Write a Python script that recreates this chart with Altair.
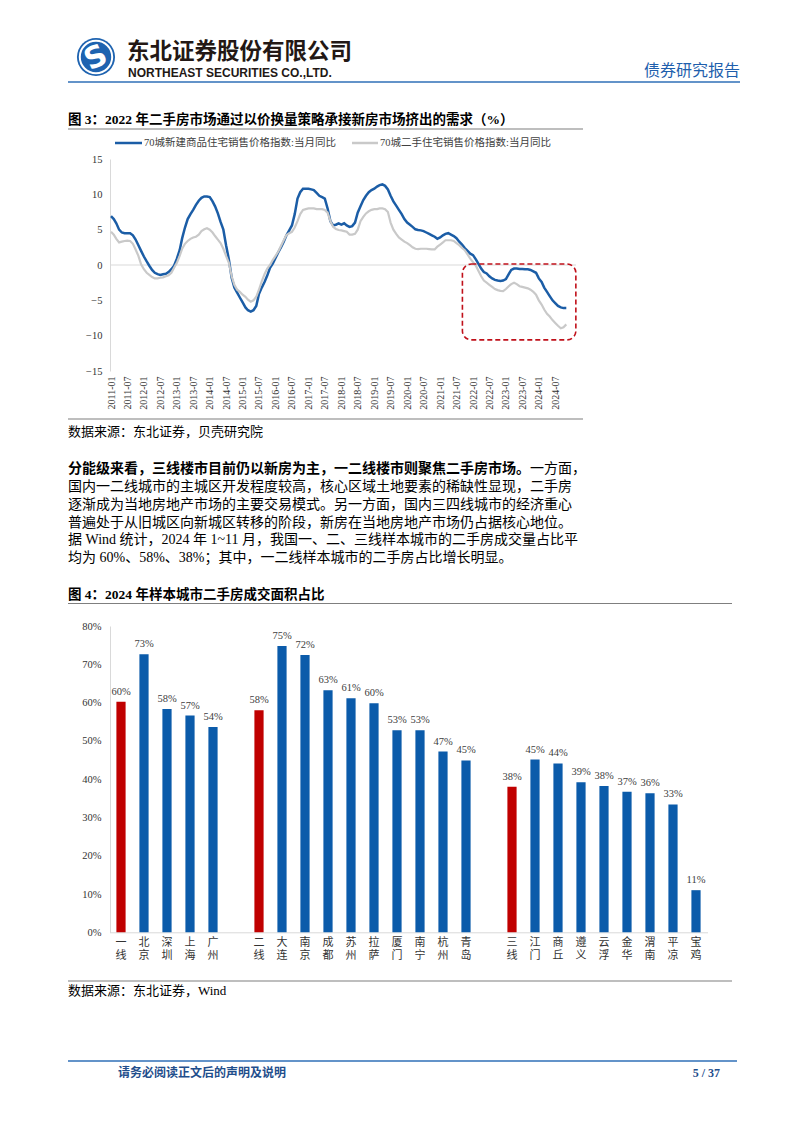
import altair as alt
import pandas as pd

SERIF = "Liberation Serif, Noto Sans CJK SC"
CJK = "Noto Sans CJK SC"
BLUE_LINE = "#1B5DA6"
GRAY_LINE = "#C9C9C9"
BAR_BLUE = "#0B5BAA"
BAR_RED = "#C00000"
AXIS_GRAY = "#D9D9D9"

# ---------------- Figure 3 data (monthly, 2011-01 .. 2024-11) ----------------
series_names = ["70城新建商品住宅销售价格指数:当月同比", "70城二手住宅销售价格指数:当月同比"]
new_home_yoy = [
    6.9, 6.5, 5.9, 5.0, 4.6, 4.5, 4.5, 4.5, 4.2, 3.6, 2.8, 2.0,          # 2011
    1.2, 0.5, -0.1, -0.7, -1.1, -1.3, -1.4, -1.3, -1.25, -1.0, -0.6, -0.1,  # 2012
    0.9, 2.1, 3.8, 5.3, 6.5, 7.2, 7.8, 8.5, 9.1, 9.5, 9.7, 9.7,          # 2013
    9.6, 9.0, 8.3, 7.3, 6.1, 5.0, 2.8, 0.8, -1.8, -3.2, -3.9, -4.6,      # 2014
    -5.3, -6.0, -6.4, -6.6, -6.4, -5.8, -4.1, -3.2, -2.4, -1.5, -0.4, 0.2,  # 2015
    1.0, 1.8, 2.5, 3.3, 4.2, 4.9, 5.6, 7.2, 9.4, 10.3, 10.8, 10.8,       # 2016
    10.8, 10.7, 10.6, 10.2, 9.8, 9.6, 9.4, 8.0, 6.2, 5.6, 5.7, 5.9,      # 2017
    5.7, 5.9, 5.6, 5.4, 5.5, 6.0, 7.4, 8.3, 9.2, 9.8, 10.3, 10.6,        # 2018
    10.8, 11.1, 11.3, 11.4, 11.2, 10.7, 9.8, 9.0, 8.4, 7.8, 7.2, 6.5,    # 2019
    6.0, 5.7, 5.4, 5.05, 4.95, 4.9, 4.8, 4.6, 4.4, 4.2, 4.0, 3.7,        # 2020
    3.9, 4.2, 4.4, 4.5, 4.3, 4.1, 3.8, 3.3, 2.9, 2.4, 2.0, 1.6,          # 2021
    1.4, 0.8, 0.2, -0.5, -1.0, -1.2, -1.6, -1.9, -2.1, -2.2, -2.25, -2.2,  # 2022
    -2.0, -1.3, -0.7, -0.5, -0.5, -0.55, -0.55, -0.6, -0.6, -0.7, -0.9, -1.1,  # 2023
    -1.9, -2.4, -3.2, -3.8, -4.4, -5.0, -5.4, -5.8, -6.0, -6.1, -6.1,    # 2024
]
second_hand_yoy = [
    4.7, 4.3, 3.7, 3.2, 3.3, 3.4, 3.45, 3.4, 3.0, 2.2, 1.3, 0.1,         # 2011
    -0.6, -1.1, -1.4, -1.7, -1.9, -1.9, -1.8, -1.75, -1.6, -1.45, -1.1, -0.4,  # 2012
    0.3, 1.3, 2.3, 3.0, 3.4, 3.7, 3.9, 4.0, 4.3, 4.8, 5.05, 5.2,         # 2013
    5.0, 4.6, 4.1, 3.6, 3.1, 2.3, 1.3, 0.3, -1.6, -2.8, -3.5, -3.8,      # 2014
    -4.2, -4.5, -4.9, -5.2, -5.0, -4.5, -3.5, -2.3, -1.3, -0.5, 0.0, 0.7,  # 2015
    1.3, 1.9, 2.7, 3.5, 4.25, 4.5, 4.7, 5.3, 6.2, 7.2, 7.8, 7.9,         # 2016
    8.0, 8.0, 8.0, 7.9, 7.9, 7.9, 7.8, 7.4, 6.2, 5.4, 5.1, 4.95,         # 2017
    4.9, 4.8, 4.7, 4.3, 4.3, 4.4, 5.0, 6.2, 6.8, 7.3, 7.6, 7.8,          # 2018
    7.9, 7.9, 8.0, 8.0, 7.9, 7.5, 6.0, 5.0, 4.4, 3.9, 3.6, 3.3,          # 2019
    3.1, 2.8, 2.5, 2.3, 2.25, 2.3, 2.3, 2.3, 2.25, 2.2, 2.2, 2.6,        # 2020
    2.9, 3.2, 3.5, 3.5, 3.5, 3.4, 3.1, 2.8, 2.4, 2.1, 1.5, 0.9,          # 2021
    0.4, -0.1, -0.8, -1.6, -2.2, -2.5, -2.8, -3.1, -3.4, -3.55, -3.65, -3.7,  # 2022
    -3.4, -3.0, -2.7, -2.5, -2.7, -3.0, -3.1, -3.2, -3.3, -3.5, -3.8, -4.2,  # 2023
    -5.0, -5.6, -6.3, -6.9, -7.3, -7.8, -8.2, -8.6, -8.95, -8.8, -8.4,   # 2024
]
first_month = "2011-01-01"
tick_years = list(range(2011, 2025))
tick_months = [1, 7]
y1_ticks = [-15, -10, -5, 0, 5, 10, 15]
# highlighted period (dashed box): from / to, value band
box_dates = ["2021-09-05", "2025-02-15"]
box_values = [0.14, -10.6]

# ---------------- Figure 4 data ----------------
tier1_names = ["一线", "北京", "深圳", "上海", "广州"]
tier1_share = [60.2, 72.6, 58.3, 56.6, 53.6]
tier2_names = ["二线", "大连", "南京", "成都", "苏州", "拉萨", "厦门", "南宁", "杭州", "青岛"]
tier2_share = [58.0, 74.8, 72.4, 63.2, 61.1, 59.8, 52.8, 52.8, 47.2, 44.9]
tier3_names = ["三线", "江门", "商丘", "遵义", "云浮", "金华", "渭南", "平凉", "宝鸡"]
tier3_share = [38.0, 45.1, 44.1, 39.2, 38.2, 36.7, 36.3, 33.4, 11.0]
tier_average_names = ["一线", "二线", "三线"]
y2_ticks = [0, 0.1, 0.2, 0.3, 0.4, 0.5, 0.6, 0.7, 0.8]

# ---------------- text content ----------------
title3 = "图 3：2022 年二手房市场通过以价换量策略承接新房市场挤出的需求（%）"
title4 = "图 4：2024 年样本城市二手房成交面积占比"
source3 = "数据来源：东北证券，贝壳研究院"
source4 = "数据来源：东北证券，Wind"
para_bold = "分能级来看，三线楼市目前仍以新房为主，一二线楼市则聚焦二手房市场。"
para_first_rest = "一方面，"
para_lines = [
    "国内一二线城市的主城区开发程度较高，核心区域土地要素的稀缺性显现，二手房",
    "逐渐成为当地房地产市场的主要交易模式。另一方面，国内三四线城市的经济重心",
    "普遍处于从旧城区向新城区转移的阶段，新房在当地房地产市场仍占据核心地位。",
    "据 Wind 统计，2024 年 1~11 月，我国一、二、三线样本城市的二手房成交量占比平",
    "均为 60%、58%、38%；其中，一二线样本城市的二手房占比增长明显。",
]

PAGE_W, PAGE_H = 802, 1133
one = alt.Data(values=[{"k": 0}])


def txt(s, x, y, size, weight="normal", color="#000000", align="left", font=SERIF, angle=0):
    kw = dict(text=s, align=align, baseline="middle", fontSize=size, fontWeight=weight,
              color=color, font=font)
    if angle:
        kw["angle"] = angle
    return alt.Chart(one).mark_text(**kw).encode(x=alt.value(x), y=alt.value(y))


def hline(x0, x1, y, color, width):
    return alt.Chart(one).mark_rule(color=color, strokeWidth=width).encode(
        x=alt.value(x0), x2=alt.value(x1), y=alt.value(y))


layout = []
# header
layout.append(alt.Chart(one).mark_point(shape="circle", filled=True, size=1450, color="#1E63B0", opacity=1)
              .encode(x=alt.value(96), y=alt.value(57)))
layout.append(alt.Chart(one).mark_point(shape="circle", filled=False, size=1050, color="white", strokeWidth=2, opacity=1)
              .encode(x=alt.value(96), y=alt.value(57)))
layout.append(txt("S", 96, 58, 30, "bold", "white", "center", "DejaVu Sans", angle=335))
layout.append(txt("东北证券股份有限公司", 127, 51.5, 22.5, "bold", "#231815", font=CJK))
layout.append(txt("NORTHEAST SECURITIES CO.,LTD.", 128, 72.5, 12, "bold", "#231815", font="Liberation Sans"))
layout.append(txt("债券研究报告", 740, 71, 16, "normal", "#1F5FAD", "right", CJK))
layout.append(hline(68, 740, 82, "#2F6FB7", 1.5))

# figure 3 frame
layout.append(txt(title3, 68, 120, 13.5, "bold"))
layout.append(hline(68, 583, 129, "#7F7F7F", 1.2))
layout.append(hline(115, 142, 143, BLUE_LINE, 2.5))
layout.append(txt(series_names[0], 144, 143, 10.5, "normal", "#404040"))
layout.append(hline(352, 378, 143, GRAY_LINE, 2.5))
layout.append(txt(series_names[1], 380, 143, 10.5, "normal", "#404040"))
layout.append(hline(68, 583, 419, "#7F7F7F", 1.2))
layout.append(txt(source3, 68, 432, 13, "normal", "#000000"))

# paragraph
layout.append(txt(para_bold, 68, 469, 14, "bold"))
layout.append(txt(para_first_rest, 68 + 14 * len(para_bold), 469, 14, "normal"))
for i, line in enumerate(para_lines):
    layout.append(txt(line, 68, 487 + 17.8 * i, 14, "normal"))

# figure 4 frame
layout.append(txt(title4, 68, 594.5, 13.5, "bold"))
layout.append(hline(68, 732, 603.5, "#7F7F7F", 1.2))
layout.append(hline(68, 732, 981, "#7F7F7F", 1.2))
layout.append(txt(source4, 68, 991, 13, "normal", "#000000"))

# footer
layout.append(hline(68, 737, 1061, "#2F6FB7", 1.5))
layout.append(txt("请务必阅读正文后的声明及说明", 118, 1073, 12, "bold", "#1F4E8C", font=CJK))
layout.append(txt("5 / 37", 720, 1073, 12, "bold", "#1F4E8C", "right"))

# ---------------- Figure 3 chart ----------------
n = len(new_home_yoy)
months = pd.date_range(first_month, periods=n, freq="MS")
df1 = pd.DataFrame({
    "date": list(months) * 2,
    "value": new_home_yoy + second_hand_yoy,
    "series": [series_names[0]] * n + [series_names[1]] * n,
})
box = pd.DataFrame({"d0": [box_dates[0]], "d1": [box_dates[1]], "v0": [box_values[0]], "v1": [box_values[1]]})
zero = pd.DataFrame({"z": [0]})

x1_scale = alt.Scale(domain=[alt.DateTime(year=2011, month=1, date=1), alt.DateTime(year=2024, month=11, date=1)],
                     range=[111, 566.3])
x1_axis = alt.Axis(orient="bottom", offset=-(PAGE_H - 371), values=[alt.DateTime(year=y, month=m, date=1)
                                                                    for y in tick_years for m in tick_months
                                                                    if not (y == 2024 and m > 7)],
                   format="%Y-%m", labelAngle=270, domain=False, ticks=False, grid=False, labelPadding=5,
                   labelFont=SERIF, labelFontSize=10, labelColor="#333333", labelOverlap=False, labelFlush=False)
y1_scale = alt.Scale(domain=[-15, 15], range=[371, 159])
y1_axis = alt.Axis(orient="left", offset=-110, values=y1_ticks, grid=False, ticks=False, domainColor=AXIS_GRAY,
                   labelFont=SERIF, labelFontSize=10.5, labelColor="#333333", labelPadding=8)


def X1(field):
    return alt.X(field, type="temporal", scale=x1_scale, axis=x1_axis, title=None)


def Y1(field):
    return alt.Y(field, type="quantitative", scale=y1_scale, axis=y1_axis, title=None)


zero_rule = alt.Chart(zero).mark_rule(color=AXIS_GRAY, strokeWidth=1.2).encode(
    y=Y1("z"), x=alt.value(110), x2=alt.value(576))
line_new = alt.Chart(df1).transform_filter(alt.datum.series == series_names[0]).mark_line(
    color=BLUE_LINE, strokeWidth=2.5).encode(x=X1("date"), y=Y1("value"))
line_old = alt.Chart(df1).transform_filter(alt.datum.series == series_names[1]).mark_line(
    color=GRAY_LINE, strokeWidth=2.2).encode(x=X1("date"), y=Y1("value"))
box_mark = alt.Chart(box).mark_rect(filled=False, stroke="#C0101A", strokeWidth=1.6, strokeDash=[5, 3],
                                    cornerRadius=9).encode(
    x=X1("d0"), x2="d1", y=Y1("v0"), y2="v1")
chart3 = alt.layer(zero_rule, line_new, line_old, box_mark)

# ---------------- Figure 4 chart ----------------
names = tier1_names + tier2_names + tier3_names
shares = tier1_share + tier2_share + tier3_share
df2 = pd.DataFrame({
    "city": names,
    "share": [v / 100 for v in shares],
    "kind": ["tier" if c in tier_average_names else "city" for c in names],
})
x_domain = tier1_names + [" "] + tier2_names + ["  "] + tier3_names
x2_enc = alt.X("city:N", title=None,
               scale=alt.Scale(domain=x_domain, range=[109.5, 707.5], paddingInner=0.6, paddingOuter=0.3),
               axis=alt.Axis(orient="bottom", offset=-(PAGE_H - 932.3), labelAngle=0, ticks=False, grid=False,
                             domainColor=AXIS_GRAY, labelExpr="split(datum.label, '')", labelBaseline="top",
                             labelPadding=4, labelLineHeight=13, labelFont=SERIF, labelFontSize=11,
                             labelColor="#333333", labelOverlap=False))
y2_enc = alt.Y("share:Q", title=None, scale=alt.Scale(domain=[0, 0.8], range=[932.3, 626]),
               axis=alt.Axis(orient="left", offset=-110, values=y2_ticks, format=".0%", grid=False, ticks=False,
                             domainColor=AXIS_GRAY, labelFont=SERIF, labelFontSize=10.5, labelColor="#333333",
                             labelPadding=9))
bars = alt.Chart(df2).mark_bar().encode(
    x=x2_enc, y=y2_enc,
    color=alt.Color("kind:N", scale=alt.Scale(domain=["tier", "city"], range=[BAR_RED, BAR_BLUE]), legend=None))
labels = alt.Chart(df2).mark_text(baseline="bottom", dy=-5, font=SERIF, fontSize=10.5, color="#404040").encode(
    x=x2_enc, y=y2_enc, text=alt.Text("share:Q", format=".0%"))
chart4 = alt.layer(bars, labels)

page = alt.layer(*layout, chart3, chart4).resolve_scale(
    x="independent", y="independent", color="independent"
).properties(
    width=PAGE_W, height=PAGE_H, autosize=alt.AutoSizeParams(type="none"), padding=0, background="white"
).configure_view(stroke="transparent")

page.save("out.html", embed_options={"renderer": "svg", "actions": False})
